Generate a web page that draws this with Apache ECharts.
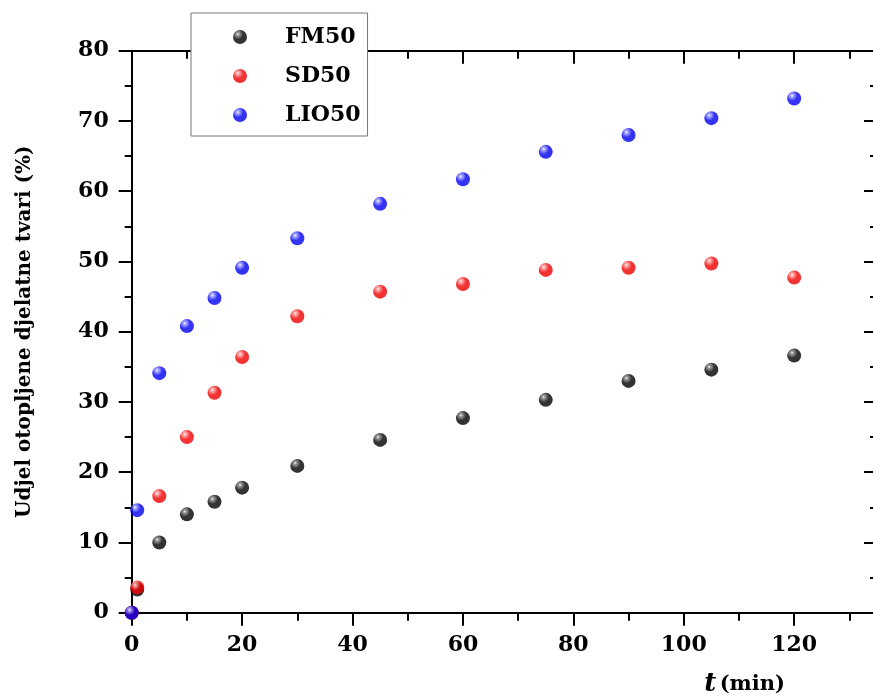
<!DOCTYPE html>
<html>
<head>
<meta charset="utf-8">
<script src="https://cdn.jsdelivr.net/npm/echarts@6/dist/echarts.min.js"></script>
<style>
  html, body { margin: 0; padding: 0; background: #fff; }
  #chart { width: 873px; height: 700px; }
</style>
</head>
<body>
<div id="chart"></div>
<script>
// vrijeme (min)
var times = [0, 1, 5, 10, 15, 20, 30, 45, 60, 75, 90, 105, 120];
var fm50 = [0, 3.3, 10.0, 14.0, 15.8, 17.8, 20.9, 24.6, 27.7, 30.3, 33.0, 34.6, 36.6];
var sd50 = [0, 3.6, 16.6, 25.0, 31.3, 36.4, 42.2, 45.7, 46.8, 48.8, 49.1, 49.7, 47.7];
var lio50 = [0, 14.6, 34.1, 40.8, 44.8, 49.1, 53.3, 58.2, 61.7, 65.6, 68.0, 70.4, 73.2];
var seriesNames = ["FM50", "SD50", "LIO50"];
var seriesColors = [["#8a8a8a", "#000000"], ["#ffa0a0", "#ee0000"], ["#a0a0ff", "#0000ee"]];

var font = "DejaVu Serif";

function ball(c) {
  return new echarts.graphic.RadialGradient(0.35, 0.3, 0.75, [
    { offset: 0, color: "#ffffff" },
    { offset: 0.12, color: c[0] },
    { offset: 0.5, color: c[1] },
    { offset: 1, color: c[1] }
  ]);
}

function pairs(ys) {
  return times.map(function (t, i) { return [t, ys[i]]; });
}

var myChart = echarts.init(document.getElementById("chart"));

var axisLine = { show: true, onZero: false, lineStyle: { color: "#000", width: 2 } };

myChart.setOption({
  animation: false,
  backgroundColor: "#fff",
  grid: { left: 131.7, right: -4, top: 50.7, bottom: 87.3, outerBoundsMode: "none", containLabel: false },
  legend: {
    left: 191,
    top: 13,
    orient: "vertical",
    data: seriesNames,
    backgroundColor: "#fff",
    borderColor: "#777",
    borderWidth: 1,
    padding: [13, 7, 10, 42],
    itemGap: 17,
    itemWidth: 14,
    itemHeight: 14,
    textStyle: { fontFamily: font, fontWeight: "bold", fontSize: 22, color: "#000", padding: [0, 0, 0, 33] }
  },
  xAxis: [
    {
      type: "value",
      min: 0,
      max: 135,
      interval: 20,
      position: "bottom",
      axisLine: axisLine,
      axisTick: { show: true, length: 13, lineStyle: { color: "#000", width: 2 } },
      minorTick: { show: true, splitNumber: 2, length: 8, lineStyle: { color: "#000", width: 2 } },
      splitLine: { show: false },
      axisLabel: { margin: 22, fontFamily: font, fontWeight: "bold", fontSize: 22, color: "#000", showMaxLabel: false },
      name: "{it|t} {b|(min)}",
      nameLocation: "end",
      nameGap: 0,
      nameTextStyle: {
        align: "right",
        verticalAlign: "top",
        padding: [59, 92, 0, 0],
        rich: {
          it: { fontFamily: font, fontWeight: "bold", fontStyle: "italic", fontSize: 26, color: "#000" },
          b: { fontFamily: font, fontWeight: "bold", fontSize: 21, color: "#000" }
        }
      }
    },
    {
      type: "value",
      min: 0,
      max: 135,
      interval: 20,
      position: "top",
      axisLine: axisLine,
      axisTick: { show: true, inside: true, length: 13, lineStyle: { color: "#000", width: 2 } },
      minorTick: { show: true, splitNumber: 2, length: 8, lineStyle: { color: "#000", width: 2 } },
      splitLine: { show: false },
      axisLabel: { show: false }
    }
  ],
  yAxis: [
    {
      type: "value",
      min: 0,
      max: 80,
      interval: 10,
      position: "left",
      axisLine: axisLine,
      axisTick: { show: true, length: 13, lineStyle: { color: "#000", width: 2 } },
      minorTick: { show: true, splitNumber: 2, length: 7, lineStyle: { color: "#000", width: 2 } },
      splitLine: { show: false },
      axisLabel: { margin: 23, fontFamily: font, fontWeight: "bold", fontSize: 22, color: "#000" },
      name: "Udjel otopljene djelatne tvari (%)",
      nameLocation: "middle",
      nameGap: 97,
      nameTextStyle: { fontFamily: font, fontWeight: "bold", fontSize: 20, color: "#000" }
    },
    {
      type: "value",
      min: 0,
      max: 80,
      interval: 10,
      position: "right",
      axisLine: axisLine,
      axisTick: { show: true, inside: true, length: 13, lineStyle: { color: "#000", width: 2 } },
      minorTick: { show: true, splitNumber: 2, length: 7, lineStyle: { color: "#000", width: 2 } },
      splitLine: { show: false },
      axisLabel: { show: false }
    }
  ],
  series: [fm50, sd50, lio50].map(function (ys, i) {
    return {
      name: seriesNames[i],
      type: "scatter",
      symbol: "circle",
      symbolSize: 14,
      itemStyle: { color: ball(seriesColors[i]) },
      data: pairs(ys),
      z: 3 + i
    };
  })
});

window.addEventListener("resize", function () {
  myChart.resize();
});
</script>
</body>
</html>
